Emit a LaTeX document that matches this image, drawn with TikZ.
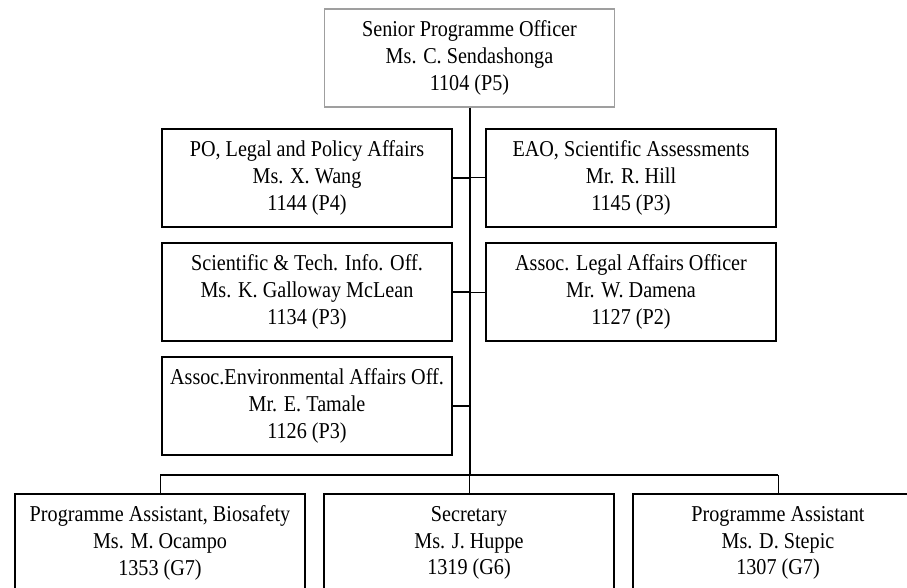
\documentclass[tikz,border=0pt]{standalone}
\usepackage{fontspec}
\setmainfont{Liberation Serif}[FakeStretch=0.89]
\usetikzlibrary{positioning}

\tikzset{
  post/.style={draw, line width=1.5pt, minimum width=217.5pt, minimum height=73.5pt,
    inner sep=0pt, align=center, font=\fontsize{17}{20}\selectfont},
  head/.style={post, draw=gray!75, line width=1.1pt},
  link/.style={line width=1.5pt},
  twig/.style={line width=0.75pt},
}

\begin{document}
\begin{tikzpicture}[x=0.75pt, y=-0.75pt, node distance=10.5pt]
\useasboundingbox (0,0) rectangle (907,588);
\clip (0,0) rectangle (907,588);

\node[head] (spo) at (469.5,58) {Senior Programme Officer\\Ms. C. Sendashonga\\1104 (P5)};

\node[post] (po) at (307,178) {PO, Legal and Policy Affairs\\Ms. X. Wang\\1144 (P4)};
\node[post, below=of po] (sti) {Scientific \& Tech. Info. Off.\\Ms. K. Galloway McLean\\1134 (P3)};
\node[post, below=of sti] (env) {Assoc.Environmental Affairs Off.\\Mr. E. Tamale\\1126 (P3)};

\node[post] (eao) at (631,178) {EAO, Scientific Assessments\\Mr. R. Hill\\1145 (P3)};
\node[post, below=of eao] (ala) {Assoc. Legal Affairs Officer\\Mr. W. Damena\\1127 (P2)};

\node[post] (pab) at (160,543) {Programme Assistant, Biosafety\\Ms. M. Ocampo\\1353 (G7)};
\node[post] (sec) at (469,543) {Secretary\\Ms. J. Huppe\\1319 (G6)};
\node[post] (pas) at (778,543) {Programme Assistant\\Ms. D. Stepic\\1307 (G7)};

\coordinate (bar) at (470,475);

% trunk and side branches
\draw[link] (spo.south -| bar) -- (bar);
\draw[link] (po.east) -- (po.east -| bar);
\draw[link] (sti.east) -- (sti.east -| bar);
\draw[link] (env.east) -- (env.east -| bar);
\draw[twig] (eao.west -| bar) -- (eao.west);
\draw[twig] (ala.west -| bar) -- (ala.west);

% support staff
\draw[link] (pab.north |- bar) -- (pas.north |- bar);
\draw[twig] (pab.north |- bar) -- (pab.north);
\draw[twig] (sec.north |- bar) -- (sec.north);
\draw[twig] (pas.north |- bar) -- (pas.north);
\end{tikzpicture}
\end{document}
